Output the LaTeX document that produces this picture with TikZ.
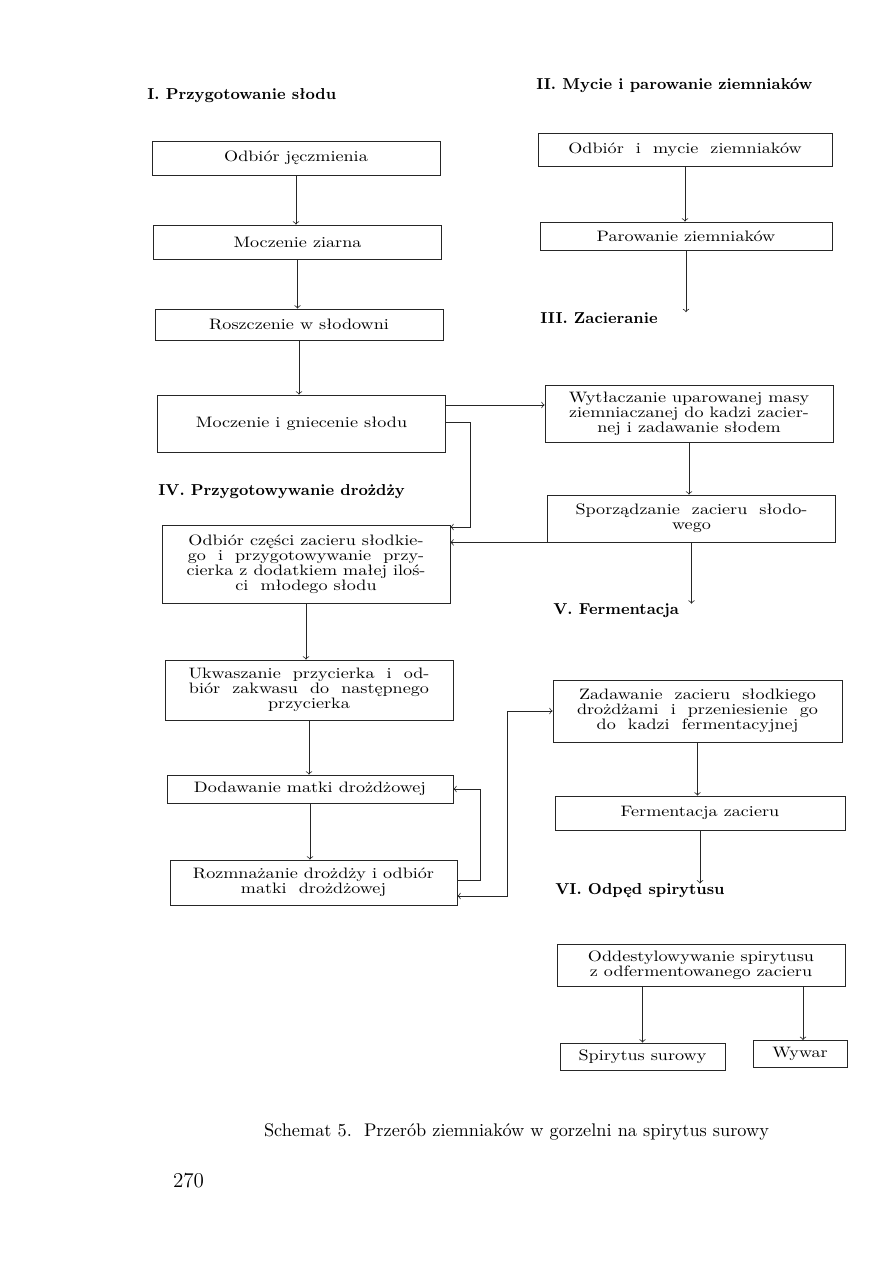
\documentclass[tikz,border=0pt]{standalone}
\usepackage{fontspec}
\usepackage{tikz}
\usetikzlibrary{arrows}

\newfontfamily\boxfamily[Extension=.otf, FakeStretch=1.2]{lmroman10-regular}
\newcommand{\boxfont}{\boxfamily\fontsize{8.6}{8.5}\selectfont}
\newcommand{\headfont}{\fontsize{9}{10}\selectfont\bfseries}

\begin{document}
\begin{tikzpicture}[scale=0.2, >=to]
\tikzstyle{every node}+=[inner sep=0pt]
\tikzstyle{stage}=[draw=black!85, line width=0.45pt, align=center, font=\boxfont, minimum width=5.76cm]
\tikzstyle{head}=[anchor=west, font=\headfont]
\tikzstyle{flow}=[black!85, line width=0.45pt, ->]
\useasboundingbox (0,0) rectangle (89.3,-126.3);
% headings
\node [head] (h1) at (14.7,-9.6) {I. Przygotowanie słodu};
\node [head] (h2) at (53.6,-8.6) {II. Mycie i parowanie ziemniaków};
\node [head] (h3) at (54.0,-31.8) {III. Zacieranie};
\node [head] (h4) at (15.8,-49.2) {IV. Przygotowywanie drożdży};
\node [head] (h5) at (55.3,-61.1) {V. Fermentacja};
\node [head] (h6) at (55.5,-89.1) {VI. Odpęd spirytusu};
% I
\node [stage, minimum height=0.68cm] (barley) at (29.6,-15.8) {Odbiór jęczmienia};
\node [stage, minimum height=0.68cm] (steep) at (29.75,-24.2) {Moczenie ziarna};
\node [stage, minimum height=0.62cm] (germ) at (29.9,-32.45) {Roszczenie w słodowni};
\node [stage, minimum height=1.14cm] (mash) at (30.15,-42.35) {Moczenie i gniecenie słodu};
% II, III
\node [stage, minimum width=5.88cm, minimum height=0.66cm] (wash) at (68.5,-14.95) {Odbiór\ \ i\ \ mycie\ \ ziemniaków};
\node [stage, minimum width=5.84cm, minimum height=0.56cm] (steam) at (68.6,-23.6) {Parowanie ziemniaków};
\node [stage, minimum height=1.14cm] (press) at (68.9,-41.35) {Wytłaczanie uparowanej masy\\ziemniaczanej do kadzi zacier-\\nej i zadawanie słodem};
\node [stage, minimum height=0.94cm] (sweet) at (69.15,-51.85) {Sporządzanie\ \ zacieru\ \ słodo-\\wego};
% IV
\node [stage, minimum height=1.56cm] (part) at (30.6,-56.4) {Odbiór części zacieru słodkie-\\go\ \ i\ \ przygotowywanie\ \ przy-\\cierka z dodatkiem małej iloś-\\ci\ \ młodego słodu};
\node [stage, minimum height=1.2cm] (sour) at (30.9,-69) {Ukwaszanie\ \ przycierka\ \ i\ \ od-\\biór\ \ zakwasu\ \ do\ \ następnego\\przycierka};
\node [stage, minimum width=5.72cm, minimum height=0.56cm] (add) at (31,-78.9) {Dodawanie matki drożdżowej};
\node [stage, minimum width=5.74cm, minimum height=0.9cm] (prop) at (31.35,-88.25) {Rozmnażanie drożdży i odbiór\\matki\ \ drożdżowej};
% V
\node [stage, minimum width=5.78cm, minimum height=1.24cm] (pitch) at (69.75,-71.1) {Zadawanie\ \ zacieru\ \ słodkiego\\drożdżami\ \ i\ \ przeniesienie\ \ go\\do\ \ kadzi\ \ fermentacyjnej};
\node [stage, minimum width=5.8cm, minimum height=0.68cm] (ferm) at (70,-81.3) {Fermentacja zacieru};
% VI
\node [stage, minimum height=0.84cm] (dist) at (70.1,-96.5) {Oddestylowywanie spirytusu\\z odfermentowanego zacieru};
\node [stage, minimum width=3.3cm, minimum height=0.54cm] (raw) at (64.25,-105.65) {Spirytus surowy};
\node [stage, minimum width=1.88cm, minimum height=0.54cm] (vin) at (80,-105.35) {Wywar};
% caption
\node [font=\fontsize{10.4}{12}\selectfont] (cap) at (51.65,-113.2) {Schemat 5.\ \ Przerób ziemniaków w gorzelni na spirytus surowy};
\node [font=\fontsize{12}{14}\selectfont] (page) at (18.85,-118.1) {270};
% flows
\draw [flow] (barley.south) -- (barley.south |- steep.north);
\draw [flow] (steep.south) -- (steep.south |- germ.north);
\draw [flow] (germ.south) -- (germ.south |- mash.north);
\draw [flow] (wash.south) -- (wash.south |- steam.north);
\draw [flow] (steam.south) -- (steam.south |- h3.north);
\draw [flow] (press.south) -- (press.south |- sweet.north);
\draw [flow] (sweet.south) -- (sweet.south |- h5.north);
\draw [flow] (part.south) -- (part.south |- sour.north);
\draw [flow] (sour.south) -- (sour.south |- add.north);
\draw [flow] (add.south) -- (add.south |- prop.north);
\draw [flow] (pitch.south) -- (pitch.south |- ferm.north);
\draw [flow] (ferm.south) -- (ferm.south |- h6.north);
\draw [flow] (raw.north |- dist.south) -- (raw.north);
\draw [flow] (80.3,-98.6) -- (80.3,-104);
\draw [flow] (mash.east |- 0,-40.5) -- (press.west |- 0,-40.5);
\draw [flow] (mash.east |- 0,-42.2) -- (47,-42.2) -- (47,-52.7) -- (part.east |- 0,-52.7);
\draw [flow] (sweet.south west) -- (part.east |- sweet.south west);
\draw [flow] (prop.east |- 0,-88) -- (48,-88) |- (add.east);
\draw [flow, <->] (prop.east |- 0,-89.6) -- (50.7,-89.6) |- (pitch.west);
\end{tikzpicture}
\end{document}
